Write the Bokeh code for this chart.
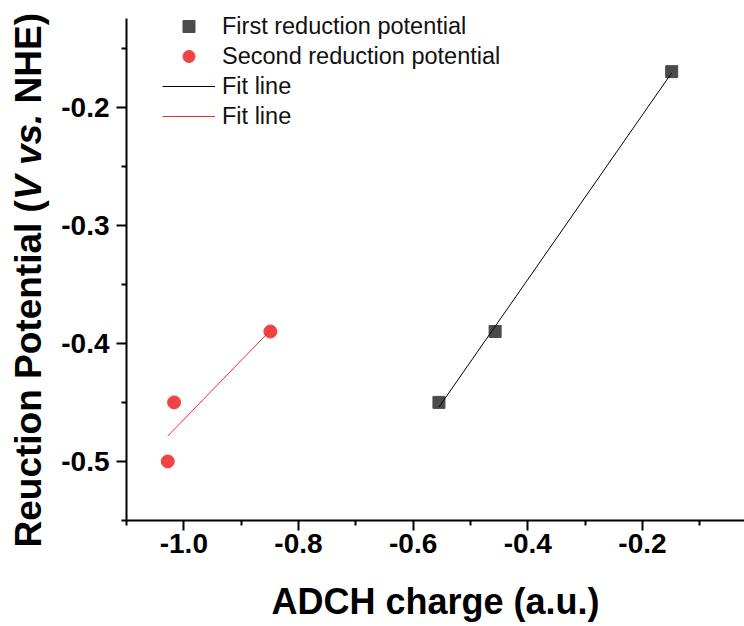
import math
from bokeh.plotting import figure
from bokeh.layouts import row
from bokeh.models import (FixedTicker, NumeralTickFormatter, Legend, LegendItem,
                          Range1d)
from bokeh.core.properties import value
from bokeh.embed import file_html
from bokeh.resources import INLINE

# ---- data ----
first_x = [-0.555, -0.457, -0.149]
first_y = [-0.450, -0.390, -0.170]
second_x = [-0.849, -1.017, -1.028]
second_y = [-0.390, -0.450, -0.500]
fit1_x = [-0.555, -0.149]
fit1_y = [-0.454, -0.171]
fit2_x = [-1.028, -0.849]
fit2_y = [-0.4785, -0.389]

x_major = [-1.0, -0.8, -0.6, -0.4, -0.2]
x_minor = [-1.1, -0.9, -0.7, -0.5, -0.3, -0.1]
y_major = [-0.5, -0.4, -0.3, -0.2]
y_minor = [-0.55, -0.45, -0.35, -0.25, -0.15]
y_axis_bounds = (-0.55, -0.125)

legend_labels = ["First reduction potential", "Second reduction potential",
                 "Fit line", "Fit line"]
x_title = "ADCH charge (a.u.)"
# y title drawn piecewise so that "V" and "vs." can be italic
y_title_pieces = ["Reuction Potential (", "V", "vs.", "NHE)"]
y_title_styles = ["bold", "bold italic", "bold italic", "bold"]
# advance (em) from the start of a piece to the start of the next (incl. spaces)
y_title_adv = [9.390, 0.667 + 0.278, 1.390 + 0.278, 2.444]

FONT = "Liberation Sans"
H = 626
LEFT_W = 50

# ---- main plot ----
PX_PER_UNIT = 502 / 0.425
frame_top = 4
y_top = y_axis_bounds[1] + (18 - frame_top) / PX_PER_UNIT

p = figure(width=744 - LEFT_W, height=H, output_backend="svg", toolbar_location=None,
           x_range=Range1d(-1.1, -0.022), y_range=Range1d(-0.55, y_top),
           min_border_left=126 - LEFT_W, min_border_right=0, min_border_top=frame_top,
           min_border_bottom=H - 520)
p.outline_line_color = None
p.xgrid.visible = False
p.ygrid.visible = False

sq = p.scatter(first_x, first_y, marker="square", size=12,
               fill_color="#4b4b4b", line_color="#4b4b4b")
ci = p.scatter(second_x, second_y, marker="circle", size=13,
               fill_color="#f04343", line_color="#f04343")
l1 = p.line(fit1_x, fit1_y, line_color="black", line_width=1)
l2 = p.line(fit2_x, fit2_y, line_color="#e8312f", line_width=1)

for ax, maj, mnr in ((p.xaxis[0], x_major, x_minor), (p.yaxis[0], y_major, y_minor)):
    ax.ticker = FixedTicker(ticks=maj, minor_ticks=mnr)
    ax.formatter = NumeralTickFormatter(format="0.0")
    ax.axis_line_width = 2
    ax.major_tick_line_width = 2
    ax.minor_tick_line_width = 2
    ax.major_tick_in = 0
    ax.minor_tick_in = 0
    ax.major_tick_out = 10
    ax.minor_tick_out = 5
    ax.major_label_text_font = FONT
    ax.major_label_text_font_style = "bold"
    ax.major_label_text_font_size = "28px"
    ax.major_label_text_color = "black"
    ax.axis_line_color = "black"
    ax.major_tick_line_color = "black"
    ax.minor_tick_line_color = "black"
p.xaxis[0].major_label_standoff = 3
p.yaxis[0].major_label_standoff = 7
p.yaxis[0].bounds = y_axis_bounds

p.xaxis[0].axis_label = x_title
p.xaxis[0].axis_label_text_font = FONT
p.xaxis[0].axis_label_text_font_style = "bold"
p.xaxis[0].axis_label_text_font_size = "36px"
p.xaxis[0].axis_label_text_color = "black"
p.xaxis[0].axis_label_standoff = 25

legend = Legend(items=[LegendItem(label=legend_labels[0], renderers=[sq]),
                       LegendItem(label=legend_labels[1], renderers=[ci]),
                       LegendItem(label=legend_labels[2], renderers=[l1]),
                       LegendItem(label=legend_labels[3], renderers=[l2])],
                location=(36, 389), padding=0, margin=0, spacing=0,
                glyph_width=53, glyph_height=30, label_height=30,
                label_standoff=7, label_text_font=FONT,
                label_text_font_size="23.5px", label_text_color="#111111",
                border_line_color=None, background_fill_alpha=0)
p.add_layout(legend, "center")

# ---- narrow strip holding the rotated y-axis title (with italic parts) ----
t = figure(width=LEFT_W, height=H, output_backend="svg", toolbar_location=None,
           x_range=Range1d(0, LEFT_W), y_range=Range1d(0, H),
           x_axis_location=None, y_axis_location=None,
           min_border=0, min_border_left=0, min_border_right=0,
           min_border_top=0, min_border_bottom=0)
t.outline_line_color = None
t.xgrid.visible = False
t.ygrid.visible = False

for fig in (t, p):
    try:
        fig.frame_align = False
    except Exception:
        pass

fs = 37
pos = H - 547.0
for txt, style, em in zip(y_title_pieces, y_title_styles, y_title_adv):
    t.text(x=[28], y=[pos], text=[txt], angle=math.pi / 2,
           text_font=value(FONT), text_font_style=style,
           text_font_size=f"{fs}px", text_align="left",
           text_baseline="alphabetic", text_color="black")
    pos += em * fs

layout = row(t, p, spacing=0)
open("out.html", "w").write(file_html(layout, INLINE))
